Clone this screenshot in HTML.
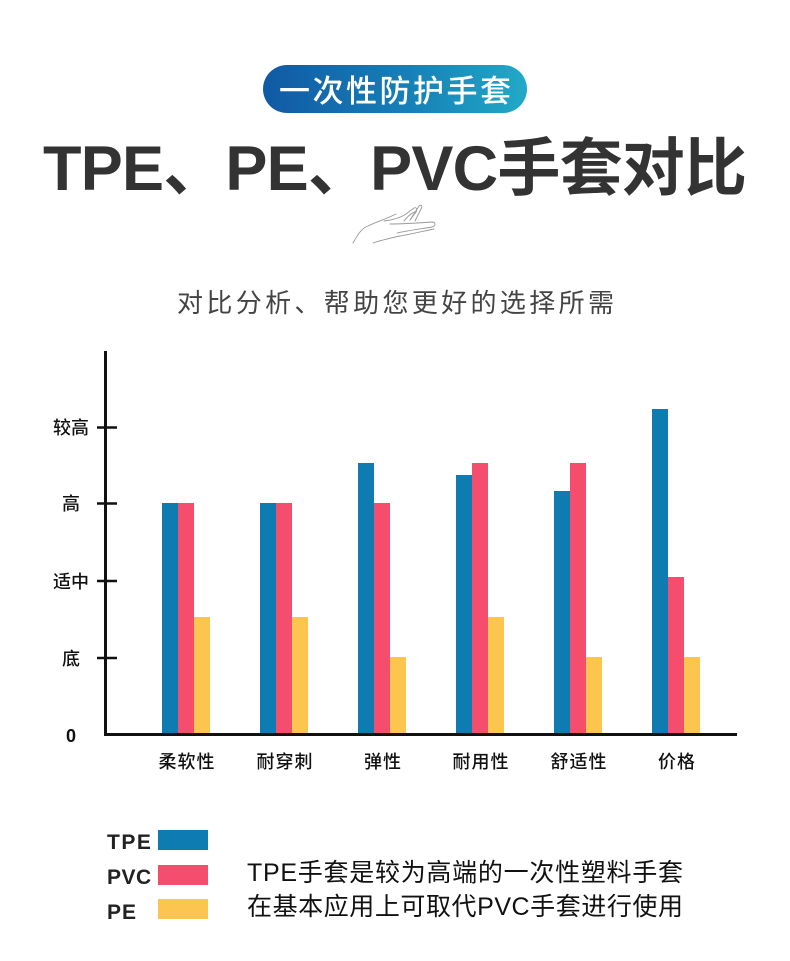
<!DOCTYPE html>
<html>
<head>
<meta charset="utf-8">
<style>
html,body{margin:0;padding:0;background:#fff;}
svg{display:block;}
text{font-family:"Liberation Sans","Noto Sans CJK SC",sans-serif;}
</style>
</head>
<body>
<svg width="790" height="961" viewBox="0 0 790 961" xmlns="http://www.w3.org/2000/svg">
<defs>
<linearGradient id="pill" x1="0" y1="0" x2="1" y2="0">
<stop offset="0" stop-color="#1159a5"/>
<stop offset="0.55" stop-color="#1680b6"/>
<stop offset="1" stop-color="#22a9c6"/>
</linearGradient>
</defs>
<rect width="790" height="961" fill="#fff"/>

<!-- pill -->
<rect x="263" y="65" width="264" height="48" rx="24" ry="24" fill="url(#pill)"/>
<text x="279" y="102" font-size="31" font-weight="500" fill="#fff" textLength="232" lengthAdjust="spacing">一次性防护手套</text>

<!-- title -->
<text x="43" y="190" font-size="63" font-weight="bold" fill="#333" textLength="704" lengthAdjust="spacing">TPE、PE、PVC手套对比</text>

<!-- hand sketch -->
<g fill="none" stroke="#9a9a9a" stroke-width="0.9" stroke-linecap="round">
<path d="M353 243 C358 234 362 228 368 226 C376 222 386 219 396 214"/>
<path d="M384 221 C392 220 400 218 406 214 L414 208 C416 207 418 209 416 212 L410 220"/>
<path d="M410 220 L419 206 C421 204 423 206 421 209 L415 221"/>
<path d="M390 224 C402 224 418 223 432 222 C436 222 436 226 432 227 C420 229 405 231 397 233"/>
<path d="M373 243 C382 240 390 238 400 236 C412 234 424 231 434 229"/>
<path d="M404 221 C408 216 412 212 416 212"/>
</g>

<!-- subtitle -->
<text x="177" y="312" font-size="26" fill="#444" textLength="437" lengthAdjust="spacing">对比分析、帮助您更好的选择所需</text>

<!-- bars -->
<g>
<rect x="162" y="503" width="16" height="231" fill="#0e7cb0"/>
<rect x="178" y="503" width="16" height="231" fill="#f44d6e"/>
<rect x="194" y="617" width="16" height="117" fill="#fcc550"/>
<rect x="260" y="503" width="16" height="231" fill="#0e7cb0"/>
<rect x="276" y="503" width="16" height="231" fill="#f44d6e"/>
<rect x="292" y="617" width="16" height="117" fill="#fcc550"/>
<rect x="358" y="463" width="16" height="271" fill="#0e7cb0"/>
<rect x="374" y="503" width="16" height="231" fill="#f44d6e"/>
<rect x="390" y="657" width="16" height="77" fill="#fcc550"/>
<rect x="456" y="475" width="16" height="259" fill="#0e7cb0"/>
<rect x="472" y="463" width="16" height="271" fill="#f44d6e"/>
<rect x="488" y="617" width="16" height="117" fill="#fcc550"/>
<rect x="554" y="491" width="16" height="243" fill="#0e7cb0"/>
<rect x="570" y="463" width="16" height="271" fill="#f44d6e"/>
<rect x="586" y="657" width="16" height="77" fill="#fcc550"/>
<rect x="652" y="409" width="16" height="325" fill="#0e7cb0"/>
<rect x="668" y="577" width="16" height="157" fill="#f44d6e"/>
<rect x="684" y="657" width="16" height="77" fill="#fcc550"/>
</g>

<!-- axes -->
<g stroke="#111" fill="none">
<line x1="105.5" y1="351" x2="105.5" y2="736" stroke-width="3"/>
<line x1="104" y1="734.5" x2="737" y2="734.5" stroke-width="3"/>
<line x1="97" y1="427.5" x2="117" y2="427.5" stroke-width="2.5"/>
<line x1="97" y1="503.5" x2="117" y2="503.5" stroke-width="2.5"/>
<line x1="97" y1="581" x2="117" y2="581" stroke-width="2.5"/>
<line x1="97" y1="658" x2="117" y2="658" stroke-width="2.5"/>
</g>

<!-- y labels -->
<g font-size="18" fill="#111" text-anchor="middle" font-weight="500">
<text x="71" y="434">较高</text>
<text x="71" y="510">高</text>
<text x="71" y="588">适中</text>
<text x="71" y="665">底</text>
<text x="71" y="742" font-weight="bold">0</text>
</g>

<!-- category labels -->
<g font-size="18" fill="#111" text-anchor="middle" font-weight="500" letter-spacing="1">
<text x="187" y="768">柔软性</text>
<text x="285" y="768">耐穿刺</text>
<text x="383" y="768">弹性</text>
<text x="481" y="768">耐用性</text>
<text x="579" y="768">舒适性</text>
<text x="677" y="768">价格</text>
</g>

<!-- legend -->
<g font-size="21" font-weight="bold" fill="#222">
<text x="107" y="849" letter-spacing="1.5">TPE</text>
<text x="107" y="884" letter-spacing="0.5">PVC</text>
<text x="107" y="919" letter-spacing="1">PE</text>
</g>
<rect x="158" y="830" width="50" height="20" fill="#0e7cb0"/>
<rect x="158" y="865" width="50" height="20" fill="#f44d6e"/>
<rect x="158" y="899" width="50" height="20" fill="#fcc550"/>

<g font-size="25" fill="#111">
<text x="247" y="881" textLength="436" lengthAdjust="spacing">TPE手套是较为高端的一次性塑料手套</text>
<text x="247" y="915" textLength="436" lengthAdjust="spacing">在基本应用上可取代PVC手套进行使用</text>
</g>
</svg>
</body>
</html>
